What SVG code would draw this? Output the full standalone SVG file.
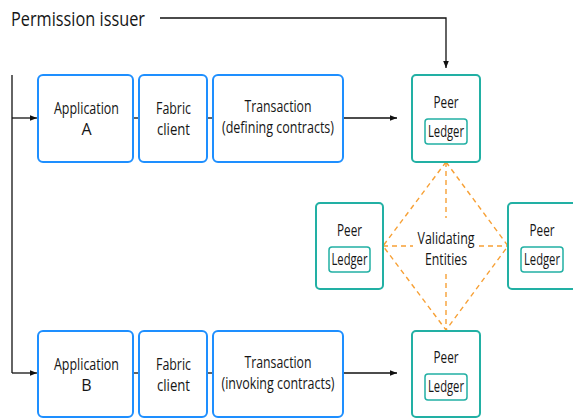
<svg xmlns="http://www.w3.org/2000/svg" width="573" height="418" viewBox="0 0 573 418">
  <defs>
    <marker id="arrow" viewBox="0 0 10 10" refX="10" refY="5" markerWidth="7" markerHeight="7" orient="auto" markerUnits="userSpaceOnUse">
      <path d="M0,1 L10,5 L0,9 z" fill="#111"/>
    </marker>
    <style>
      text { font-family: "Open Sans", "Noto Sans", sans-serif; fill: #161616; text-anchor: middle; }
      .title { font-size: 20.5px; text-anchor: start; }
      .lbl { font-size: 16px; }
      .app { fill: #fff; stroke: #1e8fff; stroke-width: 2; }
      .peer { fill: #fff; stroke: #22b0a4; stroke-width: 2; }
      .ledger { fill: #fff; stroke: #22b0a4; stroke-width: 1.5; }
      .conn { fill: none; stroke: #111; stroke-width: 1.3; }
      .dash { fill: none; stroke: #f7a035; stroke-width: 1.4; stroke-dasharray: 5 4; }
    </style>
  </defs>

  <rect width="573" height="418" fill="#fff"/>

  <text class="title" x="11" y="26" textLength="134" lengthAdjust="spacingAndGlyphs">Permission issuer</text>

  <!-- connectors -->
  <g id="connectors">
    <polyline class="conn" points="160,18 446,18 446,68" marker-end="url(#arrow)"/>
    <line class="conn" x1="12" y1="75" x2="12" y2="373"/>
    <line class="conn" x1="12" y1="118" x2="37" y2="118" marker-end="url(#arrow)"/>
    <line class="conn" x1="12" y1="373" x2="37" y2="373" marker-end="url(#arrow)"/>
    <line class="conn" x1="133" y1="118" x2="139" y2="118"/>
    <line class="conn" x1="207" y1="118" x2="213" y2="118"/>
    <line class="conn" x1="133" y1="373" x2="139" y2="373"/>
    <line class="conn" x1="207" y1="373" x2="213" y2="373"/>
    <line class="conn" x1="343" y1="118" x2="397" y2="118" marker-end="url(#arrow)"/>
    <line class="conn" x1="343" y1="373" x2="397" y2="373" marker-end="url(#arrow)"/>
    <!-- validation diamond -->
    <polygon class="dash" points="446,162 508,246 446,330 383,246"/>
    <line class="dash" x1="446" y1="162" x2="446" y2="218"/>
    <line class="dash" x1="446" y1="274" x2="446" y2="330"/>
    <line class="dash" x1="383" y1="246" x2="413" y2="246"/>
    <line class="dash" x1="479" y1="246" x2="508" y2="246"/>
  </g>

  <text class="lbl" x="446" y="244" textLength="57" lengthAdjust="spacingAndGlyphs">Validating</text>
  <text class="lbl" x="446" y="265" textLength="42" lengthAdjust="spacingAndGlyphs">Entities</text>

  <g id="appA">
    <rect class="app" x="38" y="75" width="95" height="87" rx="5"/>
    <text class="lbl" x="86.5" y="114" textLength="65" lengthAdjust="spacingAndGlyphs">Application</text>
    <text class="lbl" x="86.5" y="135">A</text>
  </g>
  <g id="clientA">
    <rect class="app" x="139" y="75" width="68" height="87" rx="5"/>
    <text class="lbl" x="173.5" y="114" textLength="35" lengthAdjust="spacingAndGlyphs">Fabric</text>
    <text class="lbl" x="173.5" y="135" textLength="33" lengthAdjust="spacingAndGlyphs">client</text>
  </g>
  <g id="txA">
    <rect class="app" x="213" y="75" width="130" height="87" rx="5"/>
    <text class="lbl" x="278" y="112" textLength="67" lengthAdjust="spacingAndGlyphs">Transaction</text>
    <text class="lbl" x="278" y="133" textLength="112" lengthAdjust="spacingAndGlyphs">(defining contracts)</text>
  </g>

  <g id="appB">
    <rect class="app" x="38" y="331" width="95" height="86" rx="5"/>
    <text class="lbl" x="86.5" y="370" textLength="65" lengthAdjust="spacingAndGlyphs">Application</text>
    <text class="lbl" x="86.5" y="391">B</text>
  </g>
  <g id="clientB">
    <rect class="app" x="139" y="331" width="68" height="86" rx="5"/>
    <text class="lbl" x="173.5" y="370" textLength="35" lengthAdjust="spacingAndGlyphs">Fabric</text>
    <text class="lbl" x="173.5" y="391" textLength="33" lengthAdjust="spacingAndGlyphs">client</text>
  </g>
  <g id="txB">
    <rect class="app" x="213" y="331" width="130" height="86" rx="5"/>
    <text class="lbl" x="278" y="368" textLength="67" lengthAdjust="spacingAndGlyphs">Transaction</text>
    <text class="lbl" x="278" y="389" textLength="113" lengthAdjust="spacingAndGlyphs">(invoking contracts)</text>
  </g>

  <g id="peerTop">
    <rect class="peer" x="412" y="75" width="68" height="87" rx="4"/>
    <text class="lbl" x="446" y="108" textLength="25" lengthAdjust="spacingAndGlyphs">Peer</text>
    <rect class="ledger" x="425" y="119" width="42" height="25" rx="3"/>
    <text class="lbl" x="446" y="137" textLength="36" lengthAdjust="spacingAndGlyphs">Ledger</text>
  </g>
  <g id="peerLeft">
    <rect class="peer" x="316" y="203" width="67" height="86" rx="4"/>
    <text class="lbl" x="349.5" y="236" textLength="25" lengthAdjust="spacingAndGlyphs">Peer</text>
    <rect class="ledger" x="329" y="247" width="41" height="25" rx="3"/>
    <text class="lbl" x="349.5" y="265" textLength="36" lengthAdjust="spacingAndGlyphs">Ledger</text>
  </g>
  <g id="peerRight">
    <rect class="peer" x="508" y="203" width="68" height="86" rx="4"/>
    <text class="lbl" x="542" y="236" textLength="25" lengthAdjust="spacingAndGlyphs">Peer</text>
    <rect class="ledger" x="521" y="247" width="42" height="25" rx="3"/>
    <text class="lbl" x="542" y="265" textLength="36" lengthAdjust="spacingAndGlyphs">Ledger</text>
  </g>
  <g id="peerBottom">
    <rect class="peer" x="412" y="331" width="68" height="86" rx="4"/>
    <text class="lbl" x="446" y="363" textLength="25" lengthAdjust="spacingAndGlyphs">Peer</text>
    <rect class="ledger" x="425" y="374" width="42" height="26" rx="3"/>
    <text class="lbl" x="446" y="392" textLength="36" lengthAdjust="spacingAndGlyphs">Ledger</text>
  </g>
</svg>
